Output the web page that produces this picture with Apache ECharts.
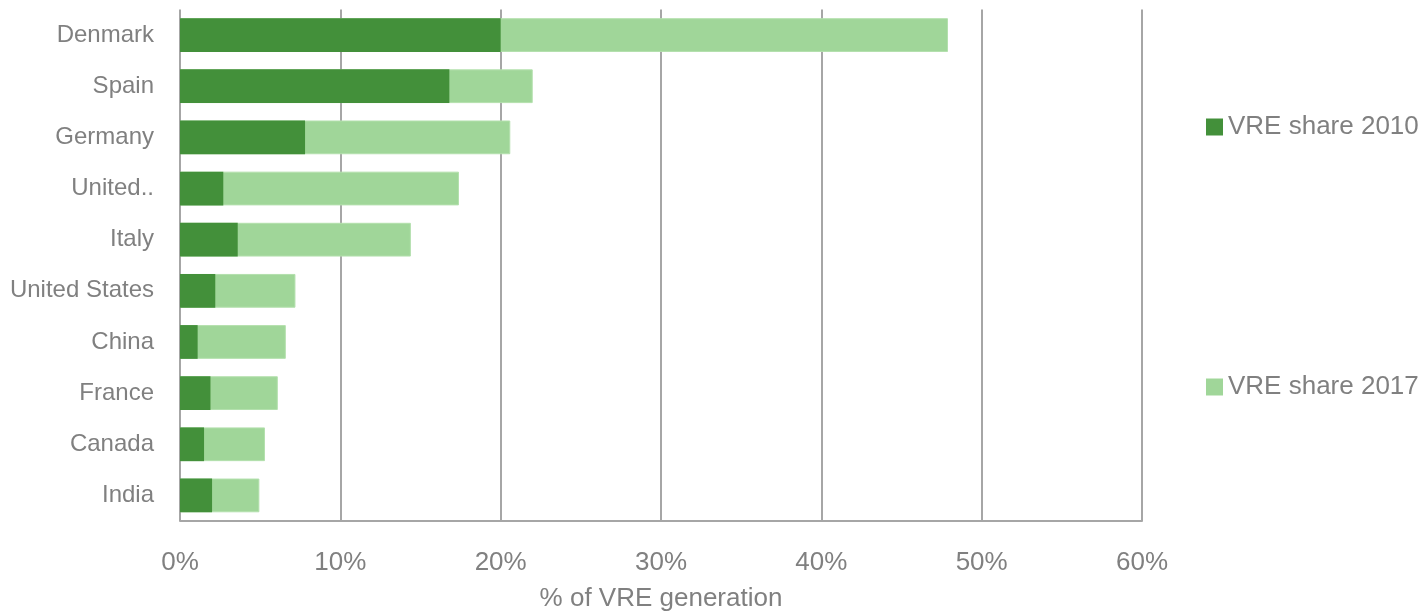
<!DOCTYPE html>
<html>
<head>
<meta charset="utf-8">
<script src="https://cdn.jsdelivr.net/npm/echarts@6/dist/echarts.min.js"></script>
<style>
  html, body { margin: 0; padding: 0; background: #ffffff; }
  #chart { width: 1423px; height: 613px; }
</style>
</head>
<body>
<div id="chart"></div>
<script>
// Variable renewable energy (VRE) share of generation, by country
const countries = ['Denmark', 'Spain', 'Germany', 'United..', 'Italy', 'United States', 'China', 'France', 'Canada', 'India'];
const share2010 = [20.0, 16.8, 7.8, 2.7, 3.6, 2.2, 1.1, 1.9, 1.5, 2.0];
const share2017 = [47.9, 22.0, 20.6, 17.4, 14.4, 7.2, 6.6, 6.1, 5.3, 4.95];
const xTicks = [0, 10, 20, 30, 40, 50, 60];

const TEXT = '#808080';
const GRID = '#a6a6a6';
const DARK = '#43903a';
const LIGHT = '#a0d699';
const LABEL_FONT = '"Liberation Sans", Arial, sans-serif';

const legendText = { color: TEXT, fontSize: 26, fontFamily: LABEL_FONT, padding: [2, 0, 0, 0] };

const chart = echarts.init(document.getElementById('chart'));
chart.setOption({
  backgroundColor: '#ffffff',
  animation: false,
  grid: { left: 180, right: 281, top: 9.5, bottom: 92, containLabel: false, outerBoundsMode: 'none' },
  legend: [
    {
      data: [{ name: 'VRE share 2010', itemStyle: { borderWidth: 0 } }], orient: 'vertical', left: 1201, top: 109,
      icon: 'rect', itemWidth: 17, itemHeight: 17, itemGap: 0,
      textStyle: legendText
    },
    {
      data: [{ name: 'VRE share 2017', itemStyle: { borderWidth: 0 } }], orient: 'vertical', left: 1201, top: 369,
      icon: 'rect', itemWidth: 17, itemHeight: 17, itemGap: 0,
      textStyle: legendText
    }
  ],
  xAxis: {
    type: 'value', min: xTicks[0], max: xTicks[xTicks.length - 1], interval: 10,
    axisLine: { show: true, lineStyle: { color: GRID, width: 2 } },
    axisTick: { show: false },
    splitLine: { show: true, lineStyle: { color: GRID, width: 2 } },
    axisLabel: { color: TEXT, fontSize: 26, fontFamily: LABEL_FONT, margin: 29, formatter: v => v + '%' },
    name: '% of VRE generation', nameLocation: 'middle', nameGap: 65,
    nameTextStyle: { color: TEXT, fontSize: 26, fontFamily: LABEL_FONT }
  },
  yAxis: {
    type: 'category', data: countries, inverse: true,
    axisLine: { show: false }, axisTick: { show: false }, splitLine: { show: false },
    axisLabel: { color: TEXT, fontSize: 24, fontFamily: LABEL_FONT, margin: 26, padding: [3, 0, 0, 0] }
  },
  series: [
    {
      name: 'VRE share 2017', type: 'bar', data: share2017,
      barCategoryGap: '34%', barGap: '-100%',
      itemStyle: { color: LIGHT, borderColor: '#b3e0ad', borderWidth: 1 }
    },
    {
      name: 'VRE share 2010', type: 'bar', data: share2010,
      barCategoryGap: '34%', barGap: '-100%',
      itemStyle: { color: DARK }
    }
  ]
});
</script>
</body>
</html>
